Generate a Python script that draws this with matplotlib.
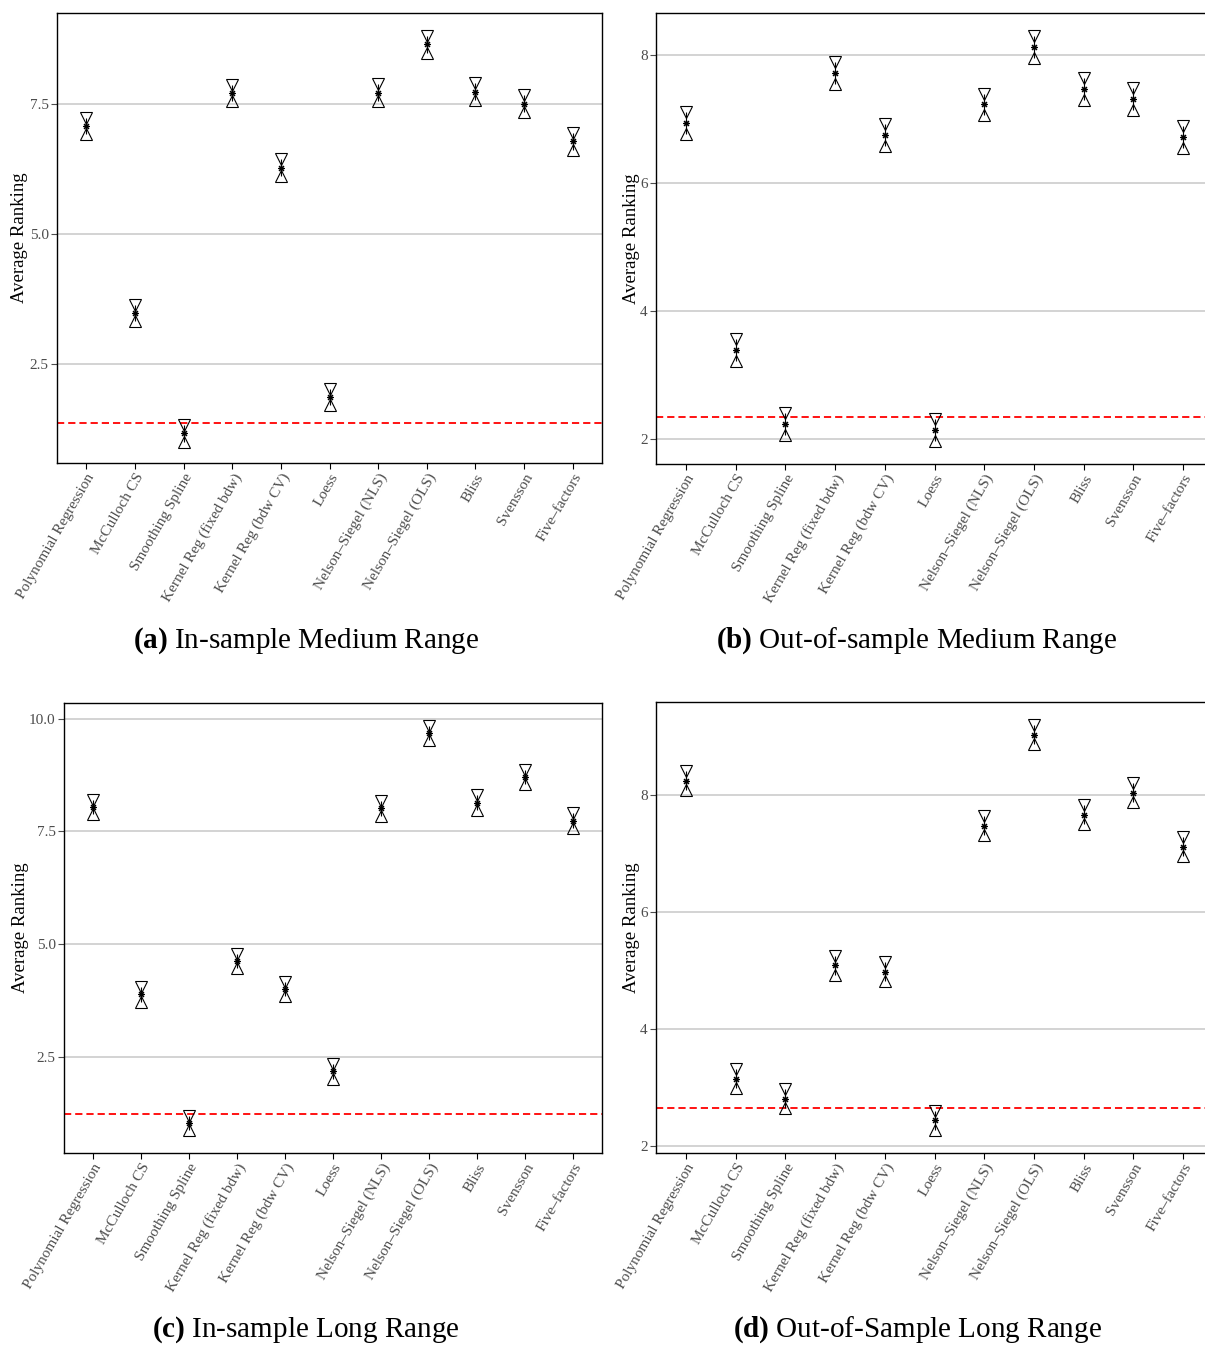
import numpy as np
import matplotlib.pyplot as plt

plt.rcParams['font.family'] = 'Liberation Serif'
plt.rcParams['mathtext.fontset'] = 'custom'
plt.rcParams['mathtext.rm'] = 'Liberation Serif'
plt.rcParams['mathtext.bf'] = 'Liberation Serif:bold'

# data
methods = ["Polynomial Regression", "McCulloch CS", "Smoothing Spline",
           "Kernel Reg (fixed bdw)", "Kernel Reg (bdw CV)", "Loess",
           "Nelson\u2013Siegel (NLS)", "Nelson\u2013Siegel (OLS)", "Bliss",
           "Svensson", "Five\u2013factors"]

rank_a = [7.08, 3.48, 1.17, 7.71, 6.28, 1.87, 7.72, 8.65, 7.74, 7.51, 6.78]
rank_b = [6.94, 3.39, 2.24, 7.72, 6.75, 2.14, 7.23, 8.13, 7.47, 7.31, 6.72]
rank_c = [8.04, 3.88, 1.02, 4.62, 4.00, 2.17, 8.01, 9.69, 8.14, 8.71, 7.74]
rank_d = [8.24, 3.15, 2.81, 5.09, 4.98, 2.44, 7.47, 9.02, 7.66, 8.03, 7.11]

# half width of the interval around each average rank
half_a = 0.16
half_b = 0.17
half_c = 0.16
half_d = 0.16

# red dashed reference level
ref_a = 1.37
ref_b = 2.35
ref_c = 1.23
ref_d = 2.65

ticks_a = [2.5, 5.0, 7.5]
ticks_b = [2, 4, 6, 8]
ticks_c = [2.5, 5.0, 7.5, 10.0]
ticks_d = [2, 4, 6, 8]

W, H = 1205, 1346
fig = plt.figure(figsize=(W / 100, H / 100), dpi=100)


def panel(box, ranks, half, ref, ticks, fmt, ylim, label_x, caption, cap_xy):
    left, top, right, bottom = box
    ax = fig.add_axes([left / W, 1 - bottom / H, (right - left) / W, (bottom - top) / H])
    x = np.arange(len(methods))
    r = np.array(ranks)
    ax.axhline(ref, color='red', lw=1.3, dashes=(4, 2.2), zorder=2)
    ax.vlines(x, r - half, r + half, color='black', lw=0.8, zorder=3)
    ax.plot(x, r + half, 'v', ms=8, mfc='none', mec='black', mew=0.8, zorder=3)
    ax.plot(x, r - half, '^', ms=8, mfc='none', mec='black', mew=0.8, zorder=3)
    ax.plot(x, r, ls='none', marker=(8, 2, 0), ms=5, color='black', mew=0.8, zorder=4)

    ax.set_xlim(-0.6, len(methods) - 0.4)
    ax.set_ylim(*ylim)
    ax.set_yticks(ticks)
    ax.set_yticklabels([fmt.format(t) for t in ticks])
    ax.set_xticks(x)
    ax.set_xticklabels(methods, rotation=60, ha='right', va='top',
                       rotation_mode='anchor')
    ax.tick_params(axis='both', labelsize=11, labelcolor='#4d4d4d', length=4,
                   width=0.8, pad=2)
    ax.tick_params(axis='y', color='#4d4d4d')
    ax.grid(axis='y', color='#c8c8c8', lw=1.1, zorder=0)
    ax.set_axisbelow(True)
    for s in ax.spines.values():
        s.set_linewidth(1.0)
        s.set_color('black')
    ax.set_ylabel("Average Ranking", fontsize=13.5, color='black')
    ax.yaxis.set_label_coords(label_x, 0.5)
    fig.text(cap_xy[0] / W, 1 - cap_xy[1] / H, caption, fontsize=21,
             ha='center', va='center')
    return ax


panel((57, 13, 602, 463), rank_a, half_a, ref_a, ticks_a, "{:.1f}", (0.60, 9.25),
      -0.053, r"$\mathbf{(a)}$ In-sample Medium Range", (306, 641))
panel((656, 13, 1213, 464), rank_b, half_b, ref_b, ticks_b, "{:d}", (1.61, 8.66),
      -0.029, r"$\mathbf{(b)}$ Out-of-sample Medium Range", (917, 641))
panel((64, 703, 602, 1153), rank_c, half_c, ref_c, ticks_c, "{:.1f}", (0.36, 10.35),
      -0.065, r"$\mathbf{(c)}$ In-sample Long Range", (306, 1330))
panel((656, 702, 1213, 1153), rank_d, half_d, ref_d, ticks_d, "{:d}", (1.885, 9.58),
      -0.029, r"$\mathbf{(d)}$ Out-of-Sample Long Range", (917, 1330))

fig.savefig("out.png", dpi=100)
